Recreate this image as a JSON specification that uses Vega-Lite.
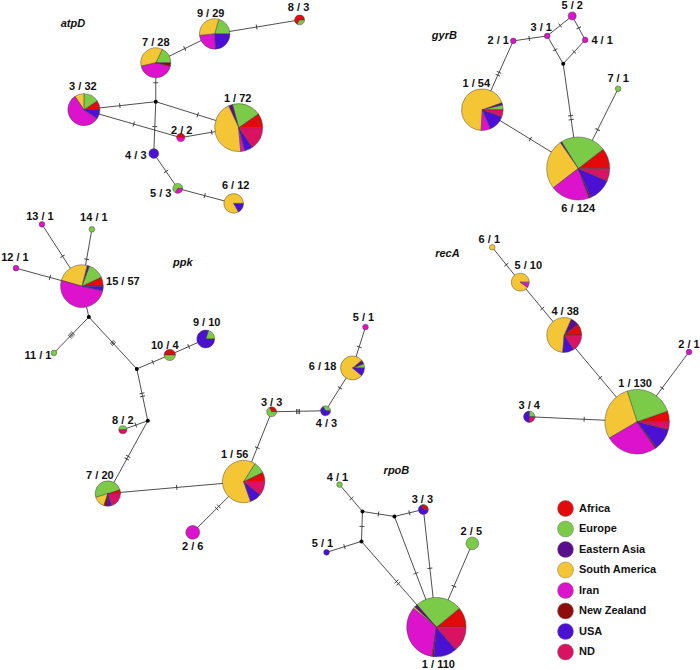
{
  "$schema": "https://vega.github.io/schema/vega-lite/v6.json",
  "width": 700,
  "height": 670,
  "padding": 0,
  "autosize": {"type": "fit", "contains": "padding"},
  "background": "white",
  "config": {
    "view": {"stroke": null},
    "font": "Liberation Sans",
    "legend": {
      "orient": "none",
      "legendX": 557,
      "legendY": 498,
      "title": null,
      "symbolType": "circle",
      "symbolSize": 256,
      "symbolStrokeColor": "#777",
      "symbolStrokeWidth": 0.5,
      "symbolOpacity": 1,
      "labelFont": "Liberation Sans",
      "labelFontSize": 11,
      "labelFontWeight": "bold",
      "labelColor": "#111",
      "labelOffset": 5,
      "rowPadding": 1.5,
      "padding": 0
    }
  },
  "datasets": {
    "pts": [
      {"id": "a1", "x": 239, "y": 126}, {"id": "a2", "x": 181, "y": 136}, {"id": "a3", "x": 84, "y": 108},
      {"id": "a4", "x": 154, "y": 152}, {"id": "a5", "x": 178, "y": 187}, {"id": "a6", "x": 234, "y": 202},
      {"id": "a7", "x": 156, "y": 61}, {"id": "a8", "x": 300, "y": 18}, {"id": "a9", "x": 215, "y": 32},
      {"id": "aj", "x": 156, "y": 100, "k": "j"},
      {"id": "g1", "x": 483, "y": 108}, {"id": "g2", "x": 514, "y": 39}, {"id": "g3", "x": 548, "y": 34},
      {"id": "g4", "x": 586, "y": 38}, {"id": "g5", "x": 573, "y": 14}, {"id": "g6", "x": 579, "y": 167},
      {"id": "g7", "x": 619, "y": 87}, {"id": "gj", "x": 564, "y": 62, "k": "j"},
      {"id": "p15", "x": 82, "y": 285}, {"id": "pA", "x": 89, "y": 316, "k": "j"}, {"id": "p13", "x": 42, "y": 223},
      {"id": "p14", "x": 92, "y": 228}, {"id": "p12", "x": 16, "y": 267}, {"id": "p11", "x": 54, "y": 352},
      {"id": "pB", "x": 137, "y": 368, "k": "j"}, {"id": "p10", "x": 170, "y": 354}, {"id": "p9", "x": 206, "y": 338},
      {"id": "pC", "x": 148, "y": 420, "k": "j"}, {"id": "p8", "x": 123, "y": 429}, {"id": "p7", "x": 108, "y": 493},
      {"id": "p1", "x": 244, "y": 481}, {"id": "p2", "x": 193, "y": 532}, {"id": "p3", "x": 272, "y": 411},
      {"id": "p4", "x": 326, "y": 410}, {"id": "p6", "x": 353, "y": 367}, {"id": "p5", "x": 366, "y": 326},
      {"id": "r6", "x": 493, "y": 246}, {"id": "r5", "x": 521, "y": 281}, {"id": "r4", "x": 565, "y": 334},
      {"id": "r1", "x": 638, "y": 421}, {"id": "r2", "x": 690, "y": 351}, {"id": "r3", "x": 530, "y": 416},
      {"id": "b4", "x": 340, "y": 484}, {"id": "bj1", "x": 363, "y": 511, "k": "j"}, {"id": "bj2", "x": 395, "y": 516, "k": "j"},
      {"id": "b3", "x": 424, "y": 509}, {"id": "bj3", "x": 362, "y": 541, "k": "j"}, {"id": "b5", "x": 327, "y": 552},
      {"id": "b2", "x": 473, "y": 543}, {"id": "b1", "x": 437, "y": 627}
    ],
    "edges": [
      {"s": "a9", "t": "a8"}, {"s": "a7", "t": "a9"}, {"s": "a7", "t": "aj"}, {"s": "aj", "t": "a3"},
      {"s": "aj", "t": "a1"}, {"s": "aj", "t": "a4"}, {"s": "a3", "t": "a2"}, {"s": "a2", "t": "a1"},
      {"s": "a4", "t": "a5"}, {"s": "a5", "t": "a6"},
      {"s": "g2", "t": "g3"}, {"s": "g3", "t": "g5"}, {"s": "g5", "t": "g4"}, {"s": "g3", "t": "gj"},
      {"s": "g4", "t": "gj"}, {"s": "g2", "t": "g1"}, {"s": "g1", "t": "g6"}, {"s": "gj", "t": "g6"}, {"s": "g7", "t": "g6"},
      {"s": "p13", "t": "p15"}, {"s": "p14", "t": "p15"}, {"s": "p12", "t": "p15"}, {"s": "p15", "t": "pA"},
      {"s": "pA", "t": "p11"}, {"s": "pA", "t": "pB"}, {"s": "pB", "t": "p10"}, {"s": "p10", "t": "p9"},
      {"s": "pB", "t": "pC"}, {"s": "pC", "t": "p8"}, {"s": "pC", "t": "p7"}, {"s": "p7", "t": "p1"},
      {"s": "p1", "t": "p2"}, {"s": "p1", "t": "p3"}, {"s": "p3", "t": "p4"}, {"s": "p4", "t": "p6"}, {"s": "p6", "t": "p5"},
      {"s": "r6", "t": "r5"}, {"s": "r5", "t": "r4"}, {"s": "r4", "t": "r1"}, {"s": "r2", "t": "r1"}, {"s": "r3", "t": "r1"},
      {"s": "b4", "t": "bj1"}, {"s": "bj1", "t": "bj2"}, {"s": "bj2", "t": "b3"}, {"s": "bj1", "t": "bj3"},
      {"s": "b5", "t": "bj3"}, {"s": "bj3", "t": "b1"}, {"s": "bj2", "t": "b1"}, {"s": "b3", "t": "b1"}, {"s": "b2", "t": "b1"}
    ],
    "hashes": [
      {"s": "a9", "t": "a8", "x": 257, "y": 25.1}, {"s": "a7", "t": "a9", "x": 185, "y": 46.7},
      {"s": "a7", "t": "aj", "x": 156, "y": 81}, {"s": "aj", "t": "a3", "x": 120, "y": 104},
      {"s": "aj", "t": "a1", "x": 198, "y": 113.2}, {"s": "aj", "t": "a4", "x": 155, "y": 125},
      {"s": "a3", "t": "a2", "x": 134, "y": 122.4}, {"s": "a2", "t": "a1", "x": 212, "y": 130.7},
      {"s": "a4", "t": "a5", "x": 166.3, "y": 170}, {"s": "a5", "t": "a6", "x": 205, "y": 194.2},
      {"s": "g2", "t": "g3", "x": 530, "y": 36.6}, {"s": "g3", "t": "g5", "x": 561, "y": 23.6},
      {"s": "g5", "t": "g4", "x": 579.5, "y": 26}, {"s": "g3", "t": "gj", "x": 556, "y": 48},
      {"s": "g4", "t": "gj", "x": 575, "y": 50}, {"s": "g2", "t": "g1", "x": 499.8, "y": 70.6},
      {"s": "g2", "t": "g1", "x": 498.6, "y": 73.4}, {"s": "g1", "t": "g6", "x": 531, "y": 137.5},
      {"s": "gj", "t": "g6", "x": 571.4, "y": 114}, {"s": "gj", "t": "g6", "x": 572, "y": 118},
      {"s": "g7", "t": "g6", "x": 598.5, "y": 128},
      {"s": "p13", "t": "p15", "x": 62.6, "y": 255}, {"s": "p14", "t": "p15", "x": 86.7, "y": 258},
      {"s": "p12", "t": "p15", "x": 50, "y": 276.3},
      {"s": "pA", "t": "p11", "x": 73.1, "y": 332.4}, {"s": "pA", "t": "p11", "x": 72, "y": 333.5},
      {"s": "pA", "t": "p11", "x": 71, "y": 334.5}, {"s": "pA", "t": "p11", "x": 69.9, "y": 335.6},
      {"s": "pA", "t": "pB", "x": 112, "y": 340.9}, {"s": "pA", "t": "pB", "x": 113, "y": 342},
      {"s": "pA", "t": "pB", "x": 114, "y": 343.1},
      {"s": "pB", "t": "p10", "x": 153, "y": 361.2}, {"s": "p10", "t": "p9", "x": 189, "y": 345.6},
      {"s": "pB", "t": "pC", "x": 142.2, "y": 392.5}, {"s": "pB", "t": "pC", "x": 142.8, "y": 395.5},
      {"s": "pC", "t": "p8", "x": 136, "y": 424.3},
      {"s": "pC", "t": "p7", "x": 128.4, "y": 455.7}, {"s": "pC", "t": "p7", "x": 127, "y": 458.3},
      {"s": "p7", "t": "p1", "x": 177, "y": 486.9},
      {"s": "p1", "t": "p2", "x": 219.1, "y": 505.9}, {"s": "p1", "t": "p2", "x": 216.9, "y": 508.1},
      {"s": "p1", "t": "p3", "x": 257.6, "y": 447},
      {"s": "p3", "t": "p4", "x": 297, "y": 410.8}, {"s": "p3", "t": "p4", "x": 298.5, "y": 410.8},
      {"s": "p3", "t": "p4", "x": 300, "y": 410.8},
      {"s": "p4", "t": "p6", "x": 340.4, "y": 387}, {"s": "p6", "t": "p5", "x": 359.7, "y": 346},
      {"s": "r6", "t": "r5", "x": 507, "y": 263.5}, {"s": "r5", "t": "r4", "x": 543, "y": 307.5},
      {"s": "r4", "t": "r1", "x": 601, "y": 376.9}, {"s": "r2", "t": "r1", "x": 663, "y": 387.3},
      {"s": "r3", "t": "r1", "x": 585, "y": 418.5},
      {"s": "b4", "t": "bj1", "x": 352, "y": 498}, {"s": "bj1", "t": "bj2", "x": 379, "y": 513.5},
      {"s": "bj2", "t": "b3", "x": 410, "y": 512.4}, {"s": "bj1", "t": "bj3", "x": 362.5, "y": 526},
      {"s": "b5", "t": "bj3", "x": 345, "y": 546.3},
      {"s": "bj3", "t": "b1", "x": 397, "y": 581.2}, {"s": "bj3", "t": "b1", "x": 399, "y": 583.4},
      {"s": "bj2", "t": "b1", "x": 416.6, "y": 573}, {"s": "b3", "t": "b1", "x": 430.5, "y": 568},
      {"s": "b2", "t": "b1", "x": 454.6, "y": 586}
    ],
    "slices": [
      {"node": "a1", "region": "Africa", "n": 7}, {"node": "a1", "region": "Europe", "n": 14},
      {"node": "a1", "region": "Eastern Asia", "n": 2}, {"node": "a1", "region": "South America", "n": 32},
      {"node": "a1", "region": "Iran", "n": 2}, {"node": "a1", "region": "USA", "n": 4}, {"node": "a1", "region": "ND", "n": 11},
      {"node": "a2", "region": "Africa", "n": 1}, {"node": "a2", "region": "Iran", "n": 1},
      {"node": "a3", "region": "Africa", "n": 3}, {"node": "a3", "region": "Europe", "n": 5},
      {"node": "a3", "region": "South America", "n": 3}, {"node": "a3", "region": "Iran", "n": 18}, {"node": "a3", "region": "USA", "n": 3},
      {"node": "a4", "region": "USA", "n": 3},
      {"node": "a5", "region": "Europe", "n": 2}, {"node": "a5", "region": "Iran", "n": 1},
      {"node": "a6", "region": "South America", "n": 10}, {"node": "a6", "region": "USA", "n": 2},
      {"node": "a7", "region": "Europe", "n": 5}, {"node": "a7", "region": "South America", "n": 10},
      {"node": "a7", "region": "Iran", "n": 12}, {"node": "a7", "region": "New Zealand", "n": 1},
      {"node": "a8", "region": "Africa", "n": 2}, {"node": "a8", "region": "Europe", "n": 1},
      {"node": "a9", "region": "Europe", "n": 6}, {"node": "a9", "region": "South America", "n": 9},
      {"node": "a9", "region": "Iran", "n": 7}, {"node": "a9", "region": "USA", "n": 7},
      {"node": "g1", "region": "Europe", "n": 2}, {"node": "g1", "region": "Eastern Asia", "n": 1},
      {"node": "g1", "region": "South America", "n": 37}, {"node": "g1", "region": "Iran", "n": 4},
      {"node": "g1", "region": "USA", "n": 7}, {"node": "g1", "region": "ND", "n": 3},
      {"node": "g2", "region": "Iran", "n": 1}, {"node": "g3", "region": "Iran", "n": 1},
      {"node": "g4", "region": "Iran", "n": 1}, {"node": "g5", "region": "Iran", "n": 2}, {"node": "g7", "region": "Europe", "n": 1},
      {"node": "g6", "region": "Africa", "n": 13}, {"node": "g6", "region": "Europe", "n": 29},
      {"node": "g6", "region": "Eastern Asia", "n": 1}, {"node": "g6", "region": "South America", "n": 32},
      {"node": "g6", "region": "Iran", "n": 25}, {"node": "g6", "region": "New Zealand", "n": 1},
      {"node": "g6", "region": "USA", "n": 15}, {"node": "g6", "region": "ND", "n": 8},
      {"node": "p15", "region": "Africa", "n": 4}, {"node": "p15", "region": "Europe", "n": 7},
      {"node": "p15", "region": "Eastern Asia", "n": 1}, {"node": "p15", "region": "South America", "n": 14},
      {"node": "p15", "region": "Iran", "n": 29}, {"node": "p15", "region": "USA", "n": 2},
      {"node": "p13", "region": "Iran", "n": 1}, {"node": "p14", "region": "Europe", "n": 1},
      {"node": "p12", "region": "Iran", "n": 1}, {"node": "p11", "region": "Europe", "n": 1},
      {"node": "p10", "region": "Africa", "n": 2}, {"node": "p10", "region": "Europe", "n": 2},
      {"node": "p9", "region": "Europe", "n": 2}, {"node": "p9", "region": "USA", "n": 8},
      {"node": "p8", "region": "Europe", "n": 1}, {"node": "p8", "region": "ND", "n": 1},
      {"node": "p7", "region": "Africa", "n": 1}, {"node": "p7", "region": "Europe", "n": 10},
      {"node": "p7", "region": "South America", "n": 3}, {"node": "p7", "region": "New Zealand", "n": 1},
      {"node": "p7", "region": "USA", "n": 1}, {"node": "p7", "region": "ND", "n": 4},
      {"node": "p1", "region": "Africa", "n": 4}, {"node": "p1", "region": "Europe", "n": 5},
      {"node": "p1", "region": "South America", "n": 36}, {"node": "p1", "region": "USA", "n": 5}, {"node": "p1", "region": "ND", "n": 6},
      {"node": "p2", "region": "Iran", "n": 6},
      {"node": "p3", "region": "Africa", "n": 1}, {"node": "p3", "region": "Europe", "n": 2},
      {"node": "p4", "region": "Europe", "n": 1}, {"node": "p4", "region": "USA", "n": 2},
      {"node": "p6", "region": "Europe", "n": 1}, {"node": "p6", "region": "Eastern Asia", "n": 1},
      {"node": "p6", "region": "South America", "n": 14}, {"node": "p6", "region": "USA", "n": 2},
      {"node": "p5", "region": "Iran", "n": 1},
      {"node": "r6", "region": "South America", "n": 1},
      {"node": "r5", "region": "South America", "n": 9}, {"node": "r5", "region": "Iran", "n": 1},
      {"node": "r4", "region": "Africa", "n": 4}, {"node": "r4", "region": "Eastern Asia", "n": 3},
      {"node": "r4", "region": "South America", "n": 21}, {"node": "r4", "region": "USA", "n": 4}, {"node": "r4", "region": "ND", "n": 6},
      {"node": "r2", "region": "Iran", "n": 1},
      {"node": "r3", "region": "Europe", "n": 1}, {"node": "r3", "region": "USA", "n": 2}, {"node": "r3", "region": "ND", "n": 1},
      {"node": "r1", "region": "Africa", "n": 7}, {"node": "r1", "region": "Europe", "n": 32},
      {"node": "r1", "region": "South America", "n": 37}, {"node": "r1", "region": "Iran", "n": 34},
      {"node": "r1", "region": "New Zealand", "n": 1}, {"node": "r1", "region": "USA", "n": 14}, {"node": "r1", "region": "ND", "n": 5},
      {"node": "b4", "region": "Europe", "n": 1}, {"node": "b5", "region": "USA", "n": 1}, {"node": "b2", "region": "Europe", "n": 5},
      {"node": "b3", "region": "Africa", "n": 1}, {"node": "b3", "region": "USA", "n": 2},
      {"node": "b1", "region": "Africa", "n": 12}, {"node": "b1", "region": "Europe", "n": 28},
      {"node": "b1", "region": "Eastern Asia", "n": 2}, {"node": "b1", "region": "South America", "n": 1},
      {"node": "b1", "region": "Iran", "n": 37}, {"node": "b1", "region": "New Zealand", "n": 1},
      {"node": "b1", "region": "USA", "n": 14}, {"node": "b1", "region": "ND", "n": 15}
    ],
    "labels": [
      {"t": "9 / 29", "x": 211, "y": 12}, {"t": "8 / 3", "x": 299, "y": 6}, {"t": "7 / 28", "x": 156, "y": 41},
      {"t": "3 / 32", "x": 83, "y": 85}, {"t": "1 / 72", "x": 238, "y": 97}, {"t": "2 / 2", "x": 182, "y": 129},
      {"t": "4 / 3", "x": 136, "y": 154}, {"t": "5 / 3", "x": 161, "y": 193}, {"t": "6 / 12", "x": 236, "y": 185},
      {"t": "5 / 2", "x": 573, "y": 4}, {"t": "3 / 1", "x": 542, "y": 26}, {"t": "2 / 1", "x": 499, "y": 39},
      {"t": "4 / 1", "x": 603, "y": 39}, {"t": "7 / 1", "x": 619, "y": 77}, {"t": "1 / 54", "x": 477, "y": 82},
      {"t": "6 / 124", "x": 579, "y": 208},
      {"t": "13 / 1", "x": 40, "y": 216}, {"t": "14 / 1", "x": 94, "y": 217}, {"t": "12 / 1", "x": 15, "y": 257},
      {"t": "15 / 57", "x": 123, "y": 281}, {"t": "11 / 1", "x": 38, "y": 355}, {"t": "10 / 4", "x": 165, "y": 345},
      {"t": "9 / 10", "x": 207, "y": 322}, {"t": "8 / 2", "x": 123, "y": 420}, {"t": "7 / 20", "x": 100, "y": 475},
      {"t": "1 / 56", "x": 235, "y": 454}, {"t": "2 / 6", "x": 193, "y": 547}, {"t": "3 / 3", "x": 272, "y": 402},
      {"t": "4 / 3", "x": 327, "y": 423}, {"t": "6 / 18", "x": 323, "y": 366}, {"t": "5 / 1", "x": 364, "y": 317},
      {"t": "6 / 1", "x": 490, "y": 239}, {"t": "5 / 10", "x": 529, "y": 265}, {"t": "4 / 38", "x": 566, "y": 311},
      {"t": "2 / 1", "x": 690, "y": 344}, {"t": "1 / 130", "x": 636, "y": 383}, {"t": "3 / 4", "x": 530, "y": 405},
      {"t": "4 / 1", "x": 338, "y": 477}, {"t": "3 / 3", "x": 423, "y": 499}, {"t": "2 / 5", "x": 472, "y": 532},
      {"t": "5 / 1", "x": 323, "y": 544}, {"t": "1 / 110", "x": 439, "y": 665}
    ],
    "genes": [
      {"g": "atpD", "x": 73, "y": 22}, {"g": "gyrB", "x": 445, "y": 34}, {"g": "ppk", "x": 183, "y": 262},
      {"g": "recA", "x": 448, "y": 253}, {"g": "rpoB", "x": 397, "y": 470}
    ]
  },
  "layer": [
    {
      "data": {"name": "edges"},
      "transform": [
        {"lookup": "s", "from": {"data": {"name": "pts"}, "key": "id", "fields": ["x", "y"]}, "as": ["sx", "sy"]},
        {"lookup": "t", "from": {"data": {"name": "pts"}, "key": "id", "fields": ["x", "y"]}, "as": ["tx", "ty"]}
      ],
      "mark": {"type": "rule", "stroke": "#3a3a3a", "strokeWidth": 0.9},
      "encoding": {
        "x": {"field": "sx", "type": "quantitative", "scale": {"domain": [0, 700], "nice": false, "zero": false}, "axis": null},
        "y": {"field": "sy", "type": "quantitative", "scale": {"domain": [0, 670], "nice": false, "zero": false, "reverse": true}, "axis": null},
        "x2": {"field": "tx"},
        "y2": {"field": "ty"}
      }
    },
    {
      "data": {"name": "hashes"},
      "transform": [
        {"lookup": "s", "from": {"data": {"name": "pts"}, "key": "id", "fields": ["x", "y"]}, "as": ["sx", "sy"]},
        {"lookup": "t", "from": {"data": {"name": "pts"}, "key": "id", "fields": ["x", "y"]}, "as": ["tx", "ty"]},
        {"calculate": "atan2(datum.ty - datum.sy, datum.tx - datum.sx) * 180 / PI", "as": "ang"}
      ],
      "mark": {"type": "point", "shape": "M0,-1L0,1", "filled": false, "stroke": "#3a3a3a", "strokeWidth": 0.9, "size": 25, "opacity": 1},
      "encoding": {
        "x": {"field": "x", "type": "quantitative"},
        "y": {"field": "y", "type": "quantitative"},
        "angle": {"field": "ang", "type": "quantitative", "scale": null}
      }
    },
    {
      "data": {"name": "pts"},
      "transform": [{"filter": "datum.k == 'j'"}],
      "mark": {"type": "point", "filled": true, "color": "#000", "size": 16, "opacity": 1},
      "encoding": {
        "x": {"field": "x", "type": "quantitative"},
        "y": {"field": "y", "type": "quantitative"}
      }
    },
    {
      "data": {"name": "slices"},
      "transform": [
        {"calculate": "indexof(['Africa','Europe','Eastern Asia','South America','Iran','New Zealand','USA','ND'], datum.region)", "as": "ord"},
        {"joinaggregate": [{"op": "sum", "field": "n", "as": "total"}], "groupby": ["node"]},
        {"stack": "n", "groupby": ["node"], "sort": [{"field": "ord", "order": "ascending"}], "offset": "normalize", "as": ["t0", "t1"]},
        {"lookup": "node", "from": {"data": {"name": "pts"}, "key": "id", "fields": ["x", "y"]}}
      ],
      "mark": {"type": "arc", "stroke": "#3c3c3c", "strokeWidth": 0.45},
      "encoding": {
        "x": {"field": "x", "type": "quantitative"},
        "y": {"field": "y", "type": "quantitative"},
        "theta": {"field": "t0", "type": "quantitative", "stack": null, "scale": {"domain": [0, 1], "range": [1.5708, -4.71239]}},
        "theta2": {"field": "t1"},
        "radius": {"field": "total", "type": "quantitative", "scale": {"type": "sqrt", "domain": [0, 130], "range": [0, 32.3], "zero": true}, "legend": null},
        "color": {
          "field": "region",
          "type": "nominal",
          "scale": {
            "domain": ["Africa", "Europe", "Eastern Asia", "South America", "Iran", "New Zealand", "USA", "ND"],
            "range": ["#e20a0a", "#7ccb48", "#5a0d8c", "#f4c535", "#dd12cc", "#8e0c0c", "#4a10d4", "#da1262"]
          },
          "legend": {"orient": "none", "legendX": 557, "legendY": 498}
        }
      }
    },
    {
      "data": {"name": "labels"},
      "mark": {"type": "text", "font": "Liberation Sans", "fontSize": 11, "fontWeight": "bold", "color": "#111", "align": "center", "baseline": "middle"},
      "encoding": {
        "x": {"field": "x", "type": "quantitative"},
        "y": {"field": "y", "type": "quantitative"},
        "text": {"field": "t", "type": "nominal"}
      }
    },
    {
      "data": {"name": "genes"},
      "mark": {"type": "text", "font": "Liberation Sans", "fontSize": 11, "fontWeight": "bold", "fontStyle": "italic", "color": "#111", "align": "center", "baseline": "middle"},
      "encoding": {
        "x": {"field": "x", "type": "quantitative"},
        "y": {"field": "y", "type": "quantitative"},
        "text": {"field": "g", "type": "nominal"}
      }
    }
  ]
}
